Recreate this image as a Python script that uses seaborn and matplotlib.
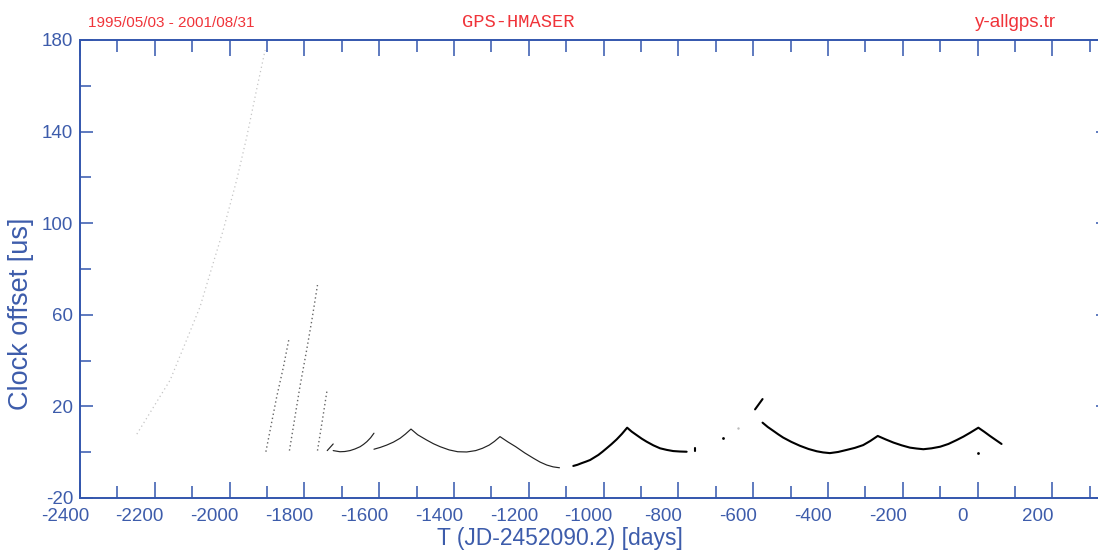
import matplotlib
matplotlib.use("Agg")
import matplotlib.pyplot as plt
import seaborn as sns
import pandas as pd
from matplotlib import font_manager, transforms

# ---------------------------------------------------------------- data
# early free-running drift (sparse light dots)
drift_t = [-2248, -2159, -2115, -2079, -2044, -2017, -1981, -1954, -1928, -1905]
drift_y = [7.9, 31.5, 49.0, 63.5, 82.5, 97.0, 118.9, 137.8, 158.2, 175.6]

# steep ramps after resets
ramp_a_t = [-1903, -1874, -1856, -1841]
ramp_a_y = [0.2, 24.2, 37.3, 49.7]
ramp_b_t = [-1840, -1812, -1794, -1780, -1765]
ramp_b_y = [0.7, 28.6, 44.6, 57.7, 73.0]
ramp_c_t = [-1765, -1749, -1739]
ramp_c_y = [0.7, 17.0, 27.5]

# steered offsets, thin trace
jump1_t = [-1739, -1723]
jump1_y = [0.7, 3.6]
arc1_t = [-1723, -1705, -1692, -1678, -1665, -1651, -1642, -1633, -1623, -1614]
arc1_y = [0.7, 0.2, 0.3, 0.7, 1.4, 2.4, 3.4, 4.6, 6.3, 8.3]
arc2_t = [-1614, -1597, -1580, -1562, -1544, -1530, -1515, -1497, -1473,
          -1455, -1437, -1413, -1390, -1366, -1342, -1324, -1306, -1292,
          -1277, -1256, -1235, -1211, -1187, -1170, -1152, -1135, -1118]
arc2_y = [1.3, 2.1, 3.1, 4.4, 6.1, 7.9, 10.1, 7.6, 5.3, 3.7, 2.4, 1.0, 0.2,
          0.1, 0.7, 1.7, 3.1, 4.7, 6.8, 4.5, 2.4, -0.3, -2.7, -4.3, -5.6,
          -6.4, -6.8]

# steered offsets, heavy trace
arc3_t = [-1081, -1070, -1059, -1047, -1036, -1025, -1014, -1003, -992, -979,
          -965, -951, -937, -925, -912, -898, -885, -867, -849, -831, -814,
          -796, -778]
arc3_y = [-6.0, -5.5, -4.8, -4.1, -3.4, -2.3, -1.2, 0.2, 1.7, 3.5, 5.6, 8.0,
          10.7, 9.0, 7.5, 5.9, 4.6, 3.0, 1.7, 1.0, 0.5, 0.3, 0.2]
tick_t = [-756, -756]
tick_y = [0.7, 1.9]
jump2_t = [-595, -575]
jump2_y = [18.7, 23.2]
arc4_t = [-575, -561, -546, -533, -520, -498, -475, -452, -430, -413, -395,
          -373, -350, -328, -306, -287, -267, -246, -225, -203, -181, -163,
          -145, -123, -100, -78, -56, -38, -20, -9, 2, 18, 33, 48, 64]
arc4_y = [12.9, 11.0, 9.3, 7.8, 6.4, 4.5, 2.8, 1.4, 0.4, -0.1, -0.4, 0.1,
          1.0, 1.9, 3.1, 4.9, 7.1, 5.6, 4.2, 3.0, 2.0, 1.6, 1.3, 1.7, 2.4,
          3.6, 5.3, 6.8, 8.5, 9.6, 10.7, 8.9, 7.1, 5.4, 3.6]

# isolated samples
dots_t = [-682, 2]
dots_y = [6.3, -0.2]
faint_t = [-640]
faint_y = [10.4]

x_major = list(range(-2400, 201, 200))
x_minor = list(range(-2300, 301, 200))
y_major = [-20, 20, 60, 100, 140, 180]
y_minor = [0, 40, 80, 120, 160]

# ---------------------------------------------------------------- style
sns.set_theme(style="white")
names = {f.name for f in font_manager.fontManager.ttflist}
if "Liberation Sans Narrow" in names:
    NARROW, k = "Liberation Sans Narrow", 1.0
else:
    NARROW, k = "Liberation Sans", 0.93
plt.rcParams["font.family"] = ["Liberation Sans", "DejaVu Sans"]

BLUE = "#3356ad"
TXT = "#3d5cab"
RED = "#f0343a"

fig = plt.figure(figsize=(10.98, 5.54), dpi=100)
W, H = 1098, 554
ax = fig.add_axes([80 / W, 56 / H, 1028.5 / W, 458 / H])


def seg(t, y, **kw):
    df = pd.DataFrame({"t": t, "y": y})
    sns.lineplot(data=df, x="t", y="y", sort=False, estimator=None, ax=ax,
                 **kw)


seg(drift_t, drift_y, color="#c4c4c4", lw=0.9, linestyle=(0, (1, 2.5)))
for t, y in [(ramp_a_t, ramp_a_y), (ramp_b_t, ramp_b_y), (ramp_c_t, ramp_c_y)]:
    seg(t, y, color="#666666", lw=1.0, linestyle=(0, (1, 2)))
for t, y in [(jump1_t, jump1_y), (arc1_t, arc1_y), (arc2_t, arc2_y)]:
    seg(t, y, color="#222222", lw=0.85)
for t, y in [(arc3_t, arc3_y), (tick_t, tick_y), (jump2_t, jump2_y),
             (arc4_t, arc4_y)]:
    seg(t, y, color="black", lw=1.5)

sns.scatterplot(x=dots_t, y=dots_y, ax=ax, color="black", s=4, linewidth=0)
sns.scatterplot(x=faint_t, y=faint_y, ax=ax, color="#bbbbbb", s=3,
                linewidth=0)

ax.set_xlim(-2400, 350)
ax.set_ylim(-20, 180)

ax.set_xticks(x_major)
ax.set_xticks(x_minor, minor=True)
ax.set_yticks(y_major)
ax.set_yticks(y_minor, minor=True)
ax.set_xticklabels([str(v) for v in x_major])
ax.set_yticklabels([str(v) for v in y_major])

ax.tick_params(axis="x", which="major", direction="in", length=11.5,
               width=1.1, color=BLUE, top=True, bottom=True, pad=7,
               labelsize=14.5 * k, labelcolor=TXT)
ax.tick_params(axis="x", which="minor", direction="in", length=8.8,
               width=1.1, color=BLUE, top=True, bottom=True)
ax.tick_params(axis="y", which="major", direction="in", length=9.4,
               width=1.1, color=BLUE, left=True, right=True, pad=5,
               labelsize=14.5 * k, labelcolor=TXT)
ax.tick_params(axis="y", which="minor", direction="in", length=8.0,
               width=1.1, color=BLUE, left=True, right=False)

for lab in ax.get_xticklabels() + ax.get_yticklabels():
    lab.set_fontfamily(NARROW)
shift = transforms.ScaledTranslation(-0.15, 0, fig.dpi_scale_trans)
for lab in ax.get_xticklabels():
    lab.set_transform(lab.get_transform() + shift)

for sp in ax.spines.values():
    sp.set_visible(True)
    sp.set_color(BLUE)
    sp.set_linewidth(1.4)

ax.set_xlabel("T (JD-2452090.2) [days]", fontsize=16.5, color=TXT,
              va="center", ha="center")
ax.xaxis.set_label_coords((560 - 80) / 1028.5, (498 - 539) / 458)
ax.set_ylabel("Clock offset [us]", fontsize=19.5, color=TXT,
              va="center", ha="center")
ax.yaxis.set_label_coords((21 - 80) / 1028.5, (498 - 314) / 458)

fig.text(88 / W, 1 - 27 / H, "1995/05/03 - 2001/08/31", color=RED,
         fontsize=12 * k if k == 1.0 else 11.0, family=NARROW, ha="left",
         va="baseline")
fig.text(462 / W, 1 - 27 / H, "GPS-HMASER", color=RED, fontsize=13.5,
         family=["Liberation Mono", "DejaVu Sans Mono"], ha="left",
         va="baseline")
fig.text(975 / W, 1 - 27 / H, "y-allgps.tr", color=RED,
         fontsize=15 if k == 1.0 else 13.5, family=NARROW, ha="left",
         va="baseline")

fig.savefig("out.png", dpi=100, facecolor="white")
